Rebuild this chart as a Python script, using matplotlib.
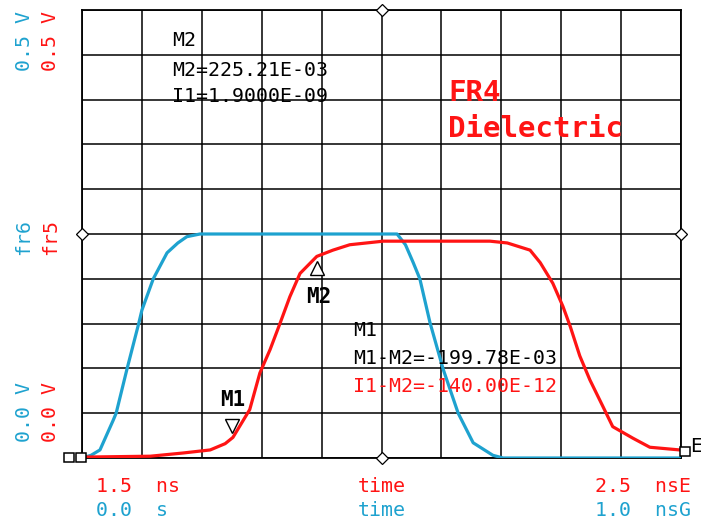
import matplotlib
matplotlib.use('Agg')
import matplotlib.pyplot as plt
import matplotlib.transforms as mtransforms
from matplotlib.patches import Rectangle

# Blue trace (fr6): time in ns from 0.0 s, volts
blue_t = [0.0, 0.015, 0.030, 0.052, 0.057, 0.075, 0.095, 0.100, 0.119, 0.142, 0.160, 0.175,
          0.197, 0.526, 0.540, 0.553, 0.564, 0.581, 0.603, 0.628, 0.653, 0.686, 0.703, 1.0]
blue_v = [0.0, 0.003, 0.009, 0.042, 0.050, 0.099, 0.151, 0.165, 0.200, 0.229, 0.240, 0.247,
          0.250, 0.250, 0.238, 0.218, 0.200, 0.151, 0.099, 0.050, 0.017, 0.003, 0.0, 0.0]

# Red trace (fr5): time in ns after 1.5 ns, volts
red_t = [0.0, 0.114, 0.169, 0.214, 0.239, 0.252, 0.280, 0.297, 0.314, 0.331, 0.347,
         0.364, 0.392, 0.419, 0.447, 0.503, 0.681, 0.710, 0.748, 0.765, 0.786, 0.803,
         0.815, 0.831, 0.848, 0.870, 0.886, 0.920, 0.948, 0.998]
red_v = [0.001, 0.002, 0.0056, 0.009, 0.016, 0.023, 0.054, 0.095, 0.121, 0.151, 0.180,
         0.206, 0.225, 0.232, 0.238, 0.242, 0.242, 0.240, 0.232, 0.218, 0.195, 0.169,
         0.147, 0.114, 0.087, 0.057, 0.035, 0.022, 0.012, 0.009]

# markers on red trace
m1_t, m1_v = 0.254, 0.0254
m2_t, m2_v = 0.392, 0.2252

blue = '#1ea2cf'
red = '#ff1414'
W, H = 701, 525

fig = plt.figure(figsize=(W / 100, H / 100), dpi=100)
ax = fig.add_axes([82 / W, 1 - 458 / H, 599 / W, 448 / H])
ax.set_xlim(0, 1)
ax.set_ylim(0, 0.5)
ax.set_xticks([i / 10 for i in range(11)])
ax.set_yticks([i * 0.05 for i in range(11)])
ax.tick_params(length=0, labelbottom=False, labelleft=False)
ax.grid(True, color='black', linewidth=1.1)
for s in ax.spines.values():
    s.set_linewidth(1.3)

ax.plot(blue_t, blue_v, color=blue, lw=2.3, zorder=3, solid_joinstyle='round')
ax.plot(red_t, red_v, color=red, lw=2.3, zorder=4, solid_joinstyle='round')

# marker triangles
down = mtransforms.offset_copy(ax.transData, fig=fig, x=0, y=-12, units='dots')
up = mtransforms.offset_copy(ax.transData, fig=fig, x=-2, y=9, units='dots')
ax.plot([m2_t], [m2_v], marker='^', ms=10, mfc='white', mec='black', mew=1.0,
        transform=down, zorder=5)
ax.plot([m1_t], [m1_v], marker='v', ms=10, mfc='white', mec='black', mew=1.0,
        transform=up, zorder=5)

# small diamond ticks at edge centres
for x, y in [(0.5, 0.5), (0.5, 0.0), (0.0, 0.25), (1.0, 0.25)]:
    ax.plot([x], [y], marker='D', ms=6, mfc='white', mec='black', mew=0.9,
            clip_on=False, zorder=6)


def px(x, y):
    return x / W, 1 - y / H


mono = 'DejaVu Sans Mono'
fs = 14.3

fig.text(*px(172, 40), 'M2', family=mono, fontsize=fs, va='center')
fig.text(*px(172, 70), 'M2=225.21E-03', family=mono, fontsize=fs, va='center')
fig.text(*px(172, 96), 'I1=1.9000E-09', family=mono, fontsize=fs, va='center')

fig.text(*px(448, 93), 'FR4', family=mono, fontsize=21, weight='bold', color=red, va='center')
fig.text(*px(448, 129), 'Dielectric', family=mono, fontsize=21, weight='bold', color=red,
         va='center')

fig.text(*px(353, 331), 'M1', family=mono, fontsize=fs, va='center')
fig.text(*px(353, 359), 'M1-M2=-199.78E-03', family=mono, fontsize=fs, va='center')
fig.text(*px(353, 386), 'I1-M2=-140.00E-12', family=mono, fontsize=fs, color=red, va='center')

fig.text(*px(233, 400), 'M1', family=mono, fontsize=15, weight='bold', ha='center', va='center')
fig.text(*px(319, 297), 'M2', family=mono, fontsize=15, weight='bold', ha='center', va='center')

# left axis labels (rotated)
for y, tb, tr in [(41, '0.5 V', '0.5 V'), (237, 'fr6', 'fr5'), (412, '0.0 V', '0.0 V')]:
    fig.text(*px(24, y), tb, family=mono, fontsize=fs, color=blue, rotation=90,
             ha='center', va='center')
    fig.text(*px(51, y), tr, family=mono, fontsize=fs, color=red, rotation=90,
             ha='center', va='center')

# bottom axis labels
fig.text(*px(96, 486), '1.5  ns', family=mono, fontsize=fs, color=red, va='center')
fig.text(*px(382, 486), 'time', family=mono, fontsize=fs, color=red, ha='center', va='center')
fig.text(*px(595, 486), '2.5  nsE', family=mono, fontsize=fs, color=red, va='center')
fig.text(*px(96, 511), '0.0  s', family=mono, fontsize=fs, color=blue, va='center')
fig.text(*px(382, 511), 'time', family=mono, fontsize=fs, color=blue, ha='center', va='center')
fig.text(*px(595, 511), '1.0  nsG', family=mono, fontsize=fs, color=blue, va='center')

# cursor boxes
for x0, y0 in [(64, 462), (76, 462), (680, 456)]:
    fig.patches.append(Rectangle((x0 / W, 1 - y0 / H), 10 / W, 9 / H,
                                 transform=fig.transFigure, facecolor='white',
                                 edgecolor='black', lw=1.1, zorder=7))
fig.text(*px(690, 446), 'E', family=mono, fontsize=fs, va='center')

fig.savefig('out.png', dpi=100)
